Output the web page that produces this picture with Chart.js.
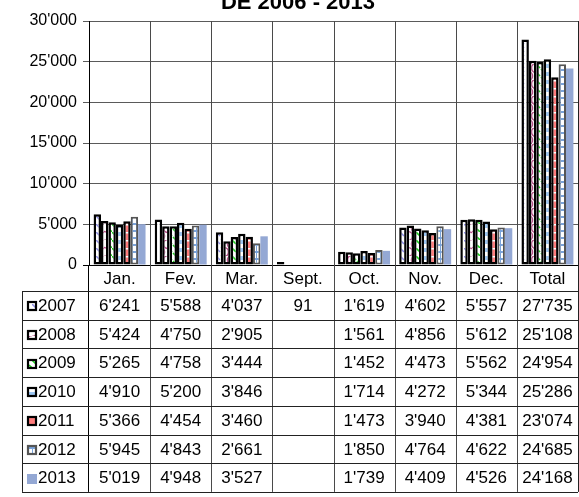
<!DOCTYPE html>
<html><head><meta charset="utf-8">
<script src="https://cdn.jsdelivr.net/npm/chart.js@4"></script>
<style>html,body{margin:0;padding:0;background:#fff}#c{display:block}</style>
</head><body>
<canvas id="c" width="579" height="497"></canvas>
<script>
const title = "DE 2006 - 2013";
const categories = ["Jan.","Fev.","Mar.","Sept.","Oct.","Nov.","Dec.","Total"];
const years = ["2007","2008","2009","2010","2011","2012","2013"];
const v2007 = [6241,5588,4037,91,1619,4602,5557,27735];
const v2008 = [5424,4750,2905,null,1561,4856,5612,25108];
const v2009 = [5265,4758,3444,null,1452,4473,5562,24954];
const v2010 = [4910,5200,3846,null,1714,4272,5344,25286];
const v2011 = [5366,4454,3460,null,1473,3940,4381,23074];
const v2012 = [5945,4843,2661,null,1850,4764,4622,24685];
const v2013 = [5019,4948,3527,null,1739,4409,4526,24168];
const yMin = 0, yMax = 30000, yStep = 5000;
const series = [v2007,v2008,v2009,v2010,v2011,v2012,v2013];

const fmt = n => (n===null||n===undefined) ? "" : String(n).replace(/\B(?=(\d{3})+(?!\d))/g, "'");
const FONT = "'Liberation Sans', Arial, sans-serif";

const canvas = document.getElementById('c');
const ctx = canvas.getContext('2d');

function mkPat(w,h,bg,draw){
  const c=document.createElement('canvas');c.width=w;c.height=h;
  const g=c.getContext('2d');g.fillStyle=bg;g.fillRect(0,0,w,h);draw(g);
  return ctx.createPattern(c,'repeat');
}
const patterns = [
  mkPat(8,8,'#fff',g=>{g.strokeStyle='#8f8fe8';g.lineWidth=1.5;g.beginPath();g.moveTo(0,0);g.lineTo(4,4);g.moveTo(4,8);g.lineTo(8,12);g.stroke();}),
  mkPat(8,16,'#fff',g=>{g.strokeStyle='#b8508a';g.lineWidth=1.6;g.beginPath();g.arc(8,4,4.5,Math.PI*0.5,Math.PI*1.5);g.stroke();g.beginPath();g.arc(0,12,4.5,-Math.PI*0.5,Math.PI*0.5);g.stroke();}),
  mkPat(8,8,'#fff',g=>{g.strokeStyle='#1ed01e';g.lineWidth=1.6;g.beginPath();g.moveTo(0,0);g.lineTo(4,4);g.stroke();g.beginPath();g.moveTo(5,5);g.lineTo(8,8);g.stroke();}),
  mkPat(8,8,'#fff',g=>{g.fillStyle='#9cc6f2';g.fillRect(0,0,8,4);}),
  mkPat(8,8,'#ff7c7c',g=>{g.fillStyle='#fff';g.fillRect(0,0,8,1.5);}),
  mkPat(4,7,'#7aa3da',g=>{g.fillStyle='#fff';g.fillRect(1,1,3,5);}),
  '#94a8d4'
];
const borderColors = ['#000','#000','#000','#000','#000','#555','rgba(0,0,0,0)'];
const borderWidths = [2.5,2.5,2.5,2.5,2.5,2,0];

const TABLE = {left:22, right:578, labelBottom:291, rowH:28.7};
const TFONT = "17px "+FONT;

const tablePlugin = {
  id:'tablePlugin',
  beforeDatasetsDraw(chart){
    const c=chart.ctx, xs=chart.scales.x, a=chart.chartArea;
    const bottom = TABLE.labelBottom + TABLE.rowH*years.length;
    c.save();c.strokeStyle='#4a4a4a';c.lineWidth=1;
    const hw = (xs.getPixelForValue(1)-xs.getPixelForValue(0))/2;
    for(let i=1;i<categories.length;i++){
      const x=Math.round(xs.getPixelForValue(i)-hw)+0.5;
      c.beginPath();c.moveTo(x,a.top);c.lineTo(x,bottom);c.stroke();
    }
    c.restore();
  },
  afterDraw(chart){
    const c=chart.ctx, xs=chart.scales.x, a=chart.chartArea;
    const bottom = TABLE.labelBottom + TABLE.rowH*years.length;
    c.save();
    // title
    c.fillStyle='#000';c.font="bold 22px "+FONT;c.textAlign='center';c.textBaseline='alphabetic';
    c.fillText(title,298,9);
    // lines
    c.strokeStyle='#000';c.lineWidth=1;
    const yl = Math.round(a.left)-0.5;
    c.beginPath();c.moveTo(yl,a.bottom);c.lineTo(yl,bottom);c.stroke();
    c.strokeStyle='#222';
    for(let r=0;r<=years.length;r++){
      const y=Math.round(TABLE.labelBottom+r*TABLE.rowH)+0.5;
      c.beginPath();c.moveTo(TABLE.left,y);c.lineTo(TABLE.right,y);c.stroke();
    }
    c.beginPath();c.moveTo(TABLE.left+0.5,TABLE.labelBottom);c.lineTo(TABLE.left+0.5,bottom);c.stroke();
    c.beginPath();c.moveTo(TABLE.right+0.5,a.top);c.lineTo(TABLE.right+0.5,bottom);c.stroke();
    // category labels
    c.fillStyle='#000';c.font=TFONT;c.textAlign='center';c.textBaseline='middle';
    categories.forEach((cat,i)=>{c.fillText(cat,xs.getPixelForValue(i),(a.bottom+TABLE.labelBottom)/2+1);});
    // rows
    years.forEach((yr,r)=>{
      const cy = TABLE.labelBottom + r*TABLE.rowH + TABLE.rowH/2 + 1;
      const kx=27, ky=Math.round(cy-5), ks=10;
      c.fillStyle=patterns[r];c.fillRect(kx,ky,ks,ks);
      if(borderWidths[r]>0){c.strokeStyle=borderColors[r];c.lineWidth=2.2;c.strokeRect(kx+1,ky+1,ks-2,ks-2);}
      c.fillStyle='#000';c.textAlign='left';c.font=TFONT;
      c.fillText(yr,38,cy);
      c.textAlign='center';
      series[r].forEach((v,i)=>{c.fillText(fmt(v),xs.getPixelForValue(i),cy);});
    });
    c.restore();
  }
};

new Chart(ctx,{
  type:'bar',
  data:{
    labels:categories,
    datasets: years.map((y,i)=>({
      label:y, data:series[i], backgroundColor:patterns[i],
      borderColor:borderColors[i], borderWidth:borderWidths[i], borderSkipped:false,
      barPercentage:1.0, categoryPercentage:0.85,
      minBarLength: i===0 ? 3 : 0
    }))
  },
  options:{
    responsive:false, animation:false, devicePixelRatio:1,
    layout:{padding:{left:0,right:1,top:21,bottom:232}},
    plugins:{legend:{display:false},title:{display:false},tooltip:{enabled:false}},
    scales:{
      x:{display:false},
      y:{
        min:yMin,max:yMax,
        afterFit(s){s.width=89;},
        ticks:{stepSize:yStep,color:'#000',font:{family:FONT,size:16},padding:6,callback:v=>fmt(v)},
        grid:{color:c=>c.tick&&c.tick.value===0?'#000':'#5a5a5a',tickLength:6,tickColor:c=>c.tick&&c.tick.value===0?'#000':'#5a5a5a'},
        border:{display:true,color:'#000',width:1}
      }
    }
  },
  plugins:[tablePlugin]
});
</script>
</body></html>
